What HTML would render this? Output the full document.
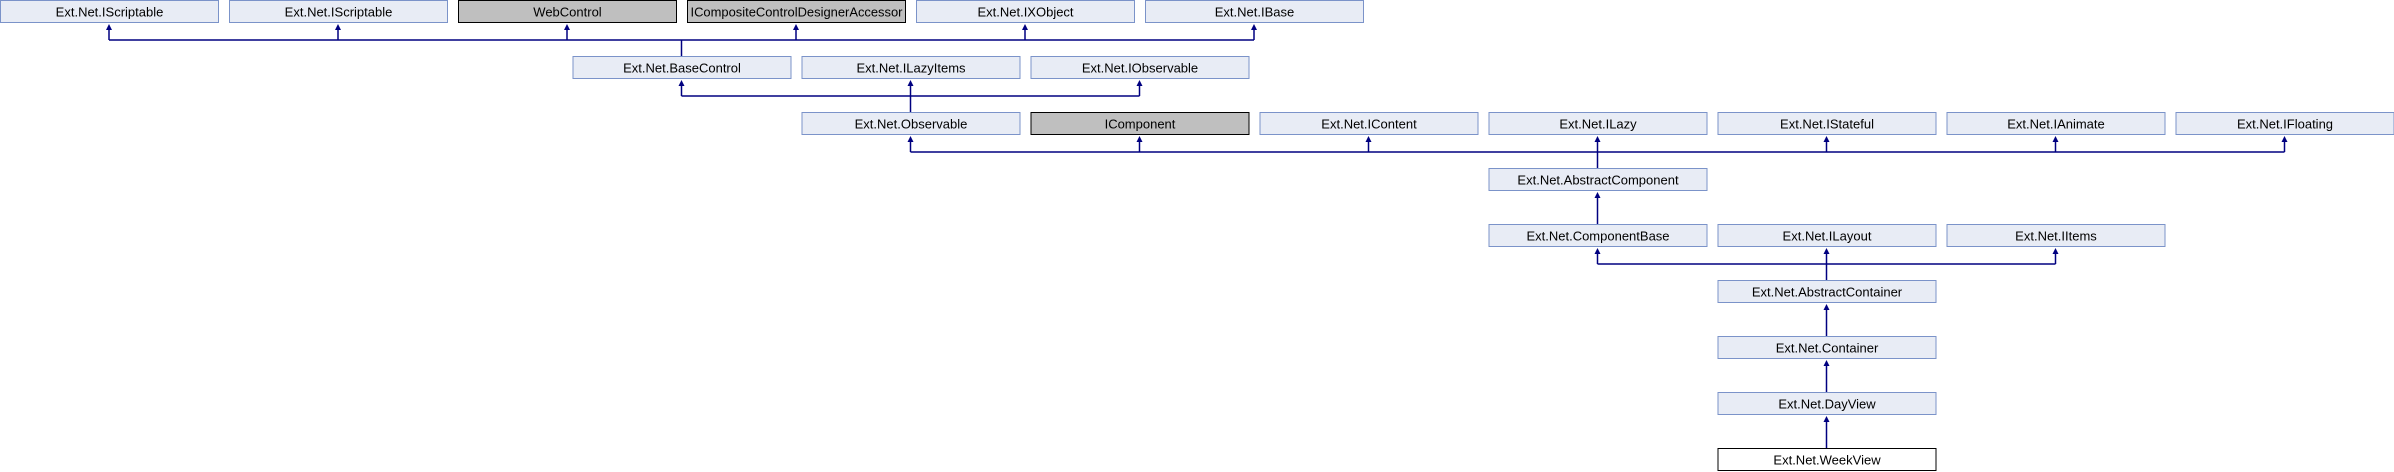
<!DOCTYPE html>
<html><head><meta charset="utf-8"><style>
html,body{margin:0;padding:0;background:#fff;width:2394px;height:472px;overflow:hidden}
svg text{font-family:"Liberation Sans",sans-serif;font-size:13px;fill:#000;text-anchor:middle}
</style></head><body>
<svg width="2394" height="472" xmlns="http://www.w3.org/2000/svg">
<g id="boxes"></g>
<g id="lines" stroke="#000080" stroke-width="1.5" fill="none"></g>
<g id="arrows" fill="#000080"></g>
</svg>
<script>
var W=218,H=23,S=229,R=56;
var nodes=[
[0,0,"Ext.Net.IScriptable",0],[1,0,"Ext.Net.IScriptable",0],[2,0,"WebControl",1],[3,0,"ICompositeControlDesignerAccessor",1],[4,0,"Ext.Net.IXObject",0],[5,0,"Ext.Net.IBase",0],
[2.5,1,"Ext.Net.BaseControl",0],[3.5,1,"Ext.Net.ILazyItems",0],[4.5,1,"Ext.Net.IObservable",0],
[3.5,2,"Ext.Net.Observable",0],[4.5,2,"IComponent",1],[5.5,2,"Ext.Net.IContent",0],[6.5,2,"Ext.Net.ILazy",0],[7.5,2,"Ext.Net.IStateful",0],[8.5,2,"Ext.Net.IAnimate",0],[9.5,2,"Ext.Net.IFloating",0],
[6.5,3,"Ext.Net.AbstractComponent",0],
[6.5,4,"Ext.Net.ComponentBase",0],[7.5,4,"Ext.Net.ILayout",0],[8.5,4,"Ext.Net.IItems",0],
[7.5,5,"Ext.Net.AbstractContainer",0],[7.5,6,"Ext.Net.Container",0],[7.5,7,"Ext.Net.DayView",0],[7.5,8,"Ext.Net.WeekView",2]];
var ns="http://www.w3.org/2000/svg",b=document.getElementById("boxes"),l=document.getElementById("lines"),ar=document.getElementById("arrows");
function el(p,t,at,txt){var e=document.createElementNS(ns,t);for(var k in at)e.setAttribute(k,at[k]);if(txt)e.textContent=txt;p.appendChild(e);return e;}
nodes.forEach(function(n){var x=n[0]*S+0.5,y=n[1]*R+0.5;
var fill=n[3]==1?"#bfbfbf":n[3]==2?"#ffffff":"#e8ecf5",st=n[3]==0?"#7b93c9":"#000";
el(b,"rect",{x:x,y:y,width:W,height:H-1,fill:fill,stroke:st,"stroke-width":1});
var at={x:x+W/2,y:y+16};
if(n[2].length>25){at.textLength=212;at.lengthAdjust="spacingAndGlyphs";}
el(b,"text",at,n[2]);});
function cx(c){return c*S+109;}
function group(pc,row,cc){var by=row*R+40,top=row*R+23;
var xs=pc.map(cx);var mn=Math.min.apply(null,xs.concat([cx(cc)])),mx=Math.max.apply(null,xs.concat([cx(cc)]));
if(pc.length>1||pc[0]!=cc) el(l,"line",{x1:mn,y1:by,x2:mx,y2:by});
xs.forEach(function(x){el(l,"line",{x1:x,y1:top+5,x2:x,y2:by});el(ar,"polygon",{points:(x-3)+","+(top+7)+" "+x+","+(top+1)+" "+(x+3)+","+(top+7)});});
el(l,"line",{x1:cx(cc),y1:by,x2:cx(cc),y2:(row+1)*R});}
group([0,1,2,3,4,5],0,2.5);
group([2.5,3.5,4.5],1,3.5);
group([3.5,4.5,5.5,6.5,7.5,8.5,9.5],2,6.5);
group([6.5],3,6.5);
group([6.5,7.5,8.5],4,7.5);
group([7.5],5,7.5);group([7.5],6,7.5);group([7.5],7,7.5);
</script>
</body></html>
